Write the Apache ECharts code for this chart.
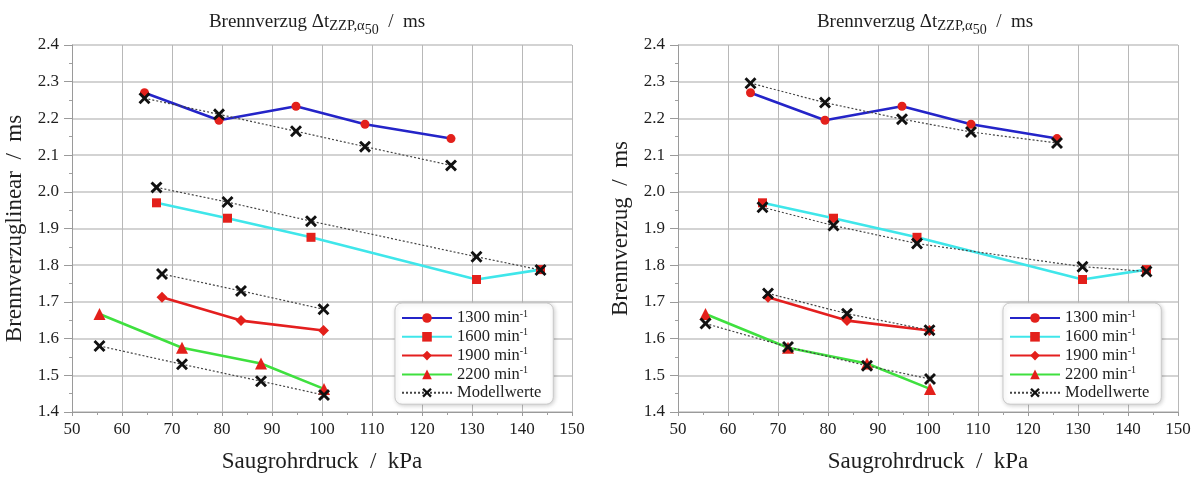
<!DOCTYPE html>
<html>
<head>
<meta charset="utf-8">
<script src="https://cdn.jsdelivr.net/npm/echarts@6/dist/echarts.min.js"></script>
<style>
  html, body { margin: 0; padding: 0; background: #fff; }
  #chart { width: 1198px; height: 478px; }
</style>
</head>
<body>
<div id="chart"></div>
<script>
// Intake manifold pressure (kPa) per engine speed
const druck1300 = [64.5, 79.4, 94.8, 108.6, 125.8];
const druck1600 = [66.9, 81.1, 97.8, 130.9, 143.7];
const druck1900 = [68.0, 83.8, 100.3];
const druck2200 = [55.5, 72.0, 87.8, 100.4];

// Measured ignition delay (ms)
const mess1300 = [2.270, 2.195, 2.233, 2.184, 2.145];
const mess1600 = [1.970, 1.928, 1.876, 1.761, 1.788];
const mess1900 = [1.713, 1.649, 1.622];
const mess2200 = [1.667, 1.575, 1.532, 1.463];

// Linear model values (left panel)
const linMod1300 = [2.255, 2.211, 2.165, 2.123, 2.072];
const linMod1600 = [2.012, 1.972, 1.920, 1.823, 1.787];
const linMod1900 = [1.776, 1.730, 1.680];
const linMod2200 = [1.580, 1.530, 1.484, 1.446];

// Model values (right panel)
const mod1300 = [2.296, 2.243, 2.198, 2.163, 2.133];
const mod1600 = [1.958, 1.908, 1.859, 1.796, 1.783];
const mod1900 = [1.723, 1.668, 1.623];
const mod2200 = [1.641, 1.577, 1.526, 1.490];

const xTicks = { min: 50, max: 150, interval: 10 };
const yTicks = { min: 1.4, max: 2.4, interval: 0.1 };

const speeds = ['1300 min-1', '1600 min-1', '1900 min-1', '2200 min-1'];
const modelName = 'Modellwerte';
const xTitle = 'Saugrohrdruck  /  kPa';
const yTitles = ['Brennverzuglinear  /  ms', 'Brennverzug  /  ms'];

const FONT = '"Liberation Serif", "DejaVu Serif", serif';
const TXT = '#1e1e1e';
const MARKER = '#e3201b';
const lineColors = ['#2424c8', '#3fe6ea', '#e41f1f', '#3fe03f'];
const symbols = ['circle', 'rect', 'diamond', 'triangle'];
const symbolSizes = [9, 9, 11, 12];
const cross = 'path://M0,1.7 L1.7,0 L5,3.3 L8.3,0 L10,1.7 L6.7,5 L10,8.3 L8.3,10 L5,6.7 L1.7,10 L0,8.3 L3.3,5 Z';

const zip = (xs, ys) => xs.map((x, i) => [x, ys[i]]);
const xs = [druck1300, druck1600, druck1900, druck2200];
const measured = [mess1300, mess1600, mess1900, mess2200];
const models = [
  [linMod1300, linMod1600, linMod1900, linMod2200],
  [mod1300, mod1600, mod1900, mod2200]
];

const grids = [
  { left: 72, right: 626, top: 45, bottom: 58 },
  { left: 678, right: 20, top: 45, bottom: 58 }
];

function xAxis(idx) {
  return {
    type: 'value', gridIndex: idx, ...xTicks,
    name: xTitle, nameLocation: 'middle', nameGap: 38,
    nameTextStyle: { fontFamily: FONT, fontSize: 23, color: TXT },
    axisLine: { lineStyle: { color: '#9a9a9a', width: 1 } },
    axisTick: { show: true, length: 4, lineStyle: { color: '#9a9a9a' } },
    minorTick: { show: true, splitNumber: 2, length: 3, lineStyle: { color: '#a0a0a0' } },
    axisLabel: { fontFamily: FONT, fontSize: 17, color: TXT, margin: 9 },
    splitLine: { show: true, lineStyle: { color: '#b8b8b8', width: 1 } }
  };
}

function yAxis(idx) {
  return {
    type: 'value', gridIndex: idx, ...yTicks,
    name: yTitles[idx], nameLocation: 'middle', nameGap: 46,
    nameTextStyle: { fontFamily: FONT, fontSize: 23, color: TXT },
    axisLine: { show: true, lineStyle: { color: '#9a9a9a', width: 1 } },
    axisTick: { show: true, length: 8, lineStyle: { color: '#9a9a9a' } },
    minorTick: { show: true, splitNumber: 2, length: 3, lineStyle: { color: '#a0a0a0' } },
    axisLabel: { fontFamily: FONT, fontSize: 17, color: TXT, margin: 13,
      formatter: v => v.toFixed(1) },
    splitLine: { show: true, lineStyle: { color: '#c4c4c4', width: 1.6 } }
  };
}

const series = [];
[0, 1].forEach(g => {
  speeds.forEach((name, i) => {
    series.push({
      name, type: 'line', xAxisIndex: g, yAxisIndex: g,
      data: zip(xs[i], measured[i]),
      symbol: symbols[i], symbolSize: symbolSizes[i],
      lineStyle: { color: lineColors[i], width: 2.6 },
      itemStyle: { color: MARKER, borderWidth: 0 },
      z: 3, animation: false
    });
  });
  models[g].forEach((vals, i) => {
    series.push({
      name: modelName, type: 'line', xAxisIndex: g, yAxisIndex: g,
      data: zip(xs[i], vals),
      symbol: cross, symbolSize: 12,
      lineStyle: { color: '#444', width: 1.2, type: [2, 2] },
      itemStyle: { color: '#111', borderWidth: 0 },
      z: 4, animation: false
    });
  });
});

function legend(left) {
  return {
    left, top: 303, orient: 'vertical',
    data: [...speeds, modelName],
    itemWidth: 50, itemHeight: 12, itemGap: 1.3,
    padding: [6, 12, 3, 6],
    backgroundColor: '#fff', borderColor: '#c9c9c9', borderWidth: 1, borderRadius: 7,
    shadowBlur: 4, shadowColor: 'rgba(0,0,0,0.18)', shadowOffsetX: 1, shadowOffsetY: 1,
    selectedMode: false,
    formatter: name => name === modelName
      ? '{t|' + name + '}'
      : '{t|' + name.split(' ')[0] + ' min}{s|-1}',
    textStyle: {
      fontFamily: FONT, fontSize: 16.5, color: TXT,
      rich: {
        t: { fontFamily: FONT, fontSize: 16.5, lineHeight: 18, color: TXT },
        s: { fontFamily: FONT, fontSize: 10, lineHeight: 11, verticalAlign: 'top', color: TXT }
      }
    }
  };
}

function title(center) {
  return {
    text: '{a|Brennverzug Δt}{b|ZZP,α}{c|50}{a|  /  ms}',
    left: center, top: 3, textAlign: 'center',
    textStyle: {
      fontWeight: 'normal',
      rich: {
        a: { fontFamily: FONT, fontSize: 19, color: TXT, fontWeight: 'normal' },
        b: { fontFamily: FONT, fontSize: 14.5, color: TXT, fontWeight: 'normal', padding: [8, 0, 0, 0] },
        c: { fontFamily: FONT, fontSize: 14, color: TXT, fontWeight: 'normal', padding: [15, 0, 0, 0] }
      }
    }
  };
}

const chart = echarts.init(document.getElementById('chart'), null, { renderer: 'canvas' });
chart.setOption({
  animation: false,
  backgroundColor: '#fff',
  title: [title(312), title(920)],
  grid: grids,
  xAxis: [xAxis(0), xAxis(1)],
  yAxis: [yAxis(0), yAxis(1)],
  legend: [legend(395), legend(1003)],
  series
});
</script>
</body>
</html>
